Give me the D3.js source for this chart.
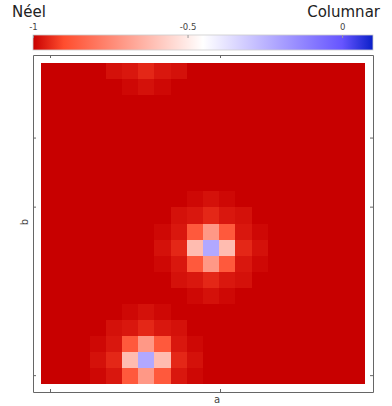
<!DOCTYPE html>
<html>
<head>
<meta charset="utf-8">
<script src="https://cdn.jsdelivr.net/npm/d3@7"></script>
<style>
  body { margin: 0; background: #fff; }
  svg text { font-family: "DejaVu Sans", sans-serif; }
  .frame path.domain, .frame line { stroke: #666; }
  .bar-axis text { fill: #444; font-size: 8.5px; }
  .bar-axis line { stroke: #999; }
  .axis-label { fill: #444; font-size: 10px; }
  svg text.title { fill: #222; font-size: 15px; }
</style>
</head>
<body>
<svg id="chart" width="392" height="406"></svg>
<script>
// 20 x 20 lattice, value -1 everywhere except two hot spots (row 0 = top)
const nCells = 20;
const background = -1;

// [col, row, value]
const hotspotA = [
  [9, 8, -0.99], [10, 8, -0.978], [11, 8, -0.99],
  [8, 9, -0.978], [9, 9, -0.97], [10, 9, -0.95], [11, 9, -0.97], [12, 9, -0.978],
  [7, 10, -0.99], [8, 10, -0.97], [9, 10, -0.87], [10, 10, -0.71], [11, 10, -0.87], [12, 10, -0.97], [13, 10, -0.99],
  [7, 11, -0.978], [8, 11, -0.95], [9, 11, -0.62], [10, 11, -0.22], [11, 11, -0.62], [12, 11, -0.95], [13, 11, -0.978],
  [7, 12, -0.99], [8, 12, -0.97], [9, 12, -0.87], [10, 12, -0.71], [11, 12, -0.87], [12, 12, -0.97], [13, 12, -0.99],
  [8, 13, -0.978], [9, 13, -0.97], [10, 13, -0.95], [11, 13, -0.97], [12, 13, -0.978],
  [9, 14, -0.99], [10, 14, -0.978], [11, 14, -0.99],
];

const hotspotB = [
  [5, 15, -0.99], [6, 15, -0.978], [7, 15, -0.99],
  [4, 16, -0.978], [5, 16, -0.97], [6, 16, -0.95], [7, 16, -0.97], [8, 16, -0.978],
  [3, 17, -0.99], [4, 17, -0.97], [5, 17, -0.87], [6, 17, -0.71], [7, 17, -0.87], [8, 17, -0.97], [9, 17, -0.99],
  [3, 18, -0.978], [4, 18, -0.95], [5, 18, -0.62], [6, 18, -0.22], [7, 18, -0.62], [8, 18, -0.95], [9, 18, -0.978],
  [3, 19, -0.99], [4, 19, -0.97], [5, 19, -0.87], [6, 19, -0.71], [7, 19, -0.87], [8, 19, -0.97], [9, 19, -0.99],
  [4, 0, -0.978], [5, 0, -0.97], [6, 0, -0.95], [7, 0, -0.97], [8, 0, -0.978],
  [5, 1, -0.99], [6, 1, -0.978], [7, 1, -0.99],
];

const colorStops = [-1, -0.9, -0.45, 0, 0.1];
const colorRange = ['#c80000', '#ff4d2e', '#ffffff', '#6655ff', '#0a1fc8'];
const barTicks = [-1, -0.5, 0];
const aTicks = [0, 1];
const bTicks = [0, 1, 1.41];
const axisDomain = [-0.1, 1.9];
const gridExtent = [-0.053, 1.853];

const svg = d3.select('#chart');

const x = d3.scaleLinear().domain(axisDomain).range([33, 373]);
const y = d3.scaleLinear().domain(axisDomain).range([392, 55]);
const c = d3.scaleLinear().domain([colorStops[0], colorStops[colorStops.length - 1]]).range([33, 373]);

const color = d3.scaleLinear().domain(colorStops).range(colorRange).interpolate(d3.interpolateRgb);

const col = d3.scaleBand().domain(d3.range(nCells)).range([x(gridExtent[0]), x(gridExtent[1])]);
const row = d3.scaleBand().domain(d3.range(nCells)).range([y(gridExtent[1]), y(gridExtent[0])]);

// full grid
const grid = [];
for (let r = 0; r < nCells; r++)
  for (let k = 0; k < nCells; k++) grid.push({col: k, row: r, v: background});
hotspotA.concat(hotspotB).forEach(([k, r, v]) => { grid[r * nCells + k].v = v; });

svg.append('g')
  .selectAll('rect')
  .data(grid)
  .join('rect')
  .attr('x', d => col(d.col))
  .attr('y', d => row(d.row))
  .attr('width', col.bandwidth() + 0.3)
  .attr('height', row.bandwidth() + 0.3)
  .attr('fill', d => color(d.v))
  .attr('shape-rendering', 'crispEdges');

// frame with inward ticks
const frame = svg.append('g').attr('class', 'frame');
frame.append('g').attr('transform', `translate(0, ${y.range()[0]})`)
  .call(d3.axisBottom(x).tickValues(aTicks).tickSize(-3).tickSizeOuter(0).tickFormat(''));
frame.append('g').attr('transform', `translate(0, ${y.range()[1]})`)
  .call(d3.axisTop(x).tickValues(aTicks).tickSize(-3).tickSizeOuter(0).tickFormat(''));
frame.append('g').attr('transform', `translate(${x.range()[0]}, 0)`)
  .call(d3.axisLeft(y).tickValues(bTicks).tickSize(-3).tickSizeOuter(0).tickFormat(''));
frame.append('g').attr('transform', `translate(${x.range()[1]}, 0)`)
  .call(d3.axisRight(y).tickValues(bTicks).tickSize(-3).tickSizeOuter(0).tickFormat(''));

svg.append('text').attr('class', 'axis-label')
  .attr('x', 217).attr('y', 403).attr('text-anchor', 'middle').text('a');
svg.append('text').attr('class', 'axis-label')
  .attr('transform', 'translate(28, 222) rotate(-90)').attr('text-anchor', 'middle').text('b');

// colour bar
const grad = svg.append('defs').append('linearGradient').attr('id', 'cbar');
const [c0, c1] = c.domain();
colorStops.forEach((s, i) => {
  grad.append('stop')
    .attr('offset', `${(s - c0) / (c1 - c0) * 100}%`)
    .attr('stop-color', colorRange[i]);
});
svg.append('rect')
  .attr('x', c.range()[0]).attr('y', 35)
  .attr('width', c.range()[1] - c.range()[0]).attr('height', 15)
  .attr('fill', 'url(#cbar)')
  .attr('stroke', '#ccc').attr('stroke-width', 0.8);

const barAxis = svg.append('g').attr('class', 'bar-axis')
  .attr('transform', 'translate(0, 35)')
  .call(d3.axisTop(c).tickValues(barTicks).tickSize(-3).tickPadding(5).tickFormat(d => String(d)));
barAxis.select('.domain').remove();
barAxis.attr('font-family', null).attr('font-size', null);

svg.append('text').attr('class', 'title').attr('x', 12).attr('y', 16.5).text('Néel');
svg.append('text').attr('class', 'title').attr('x', 380).attr('y', 16.5).attr('text-anchor', 'end').text('Columnar');
</script>
</body>
</html>
